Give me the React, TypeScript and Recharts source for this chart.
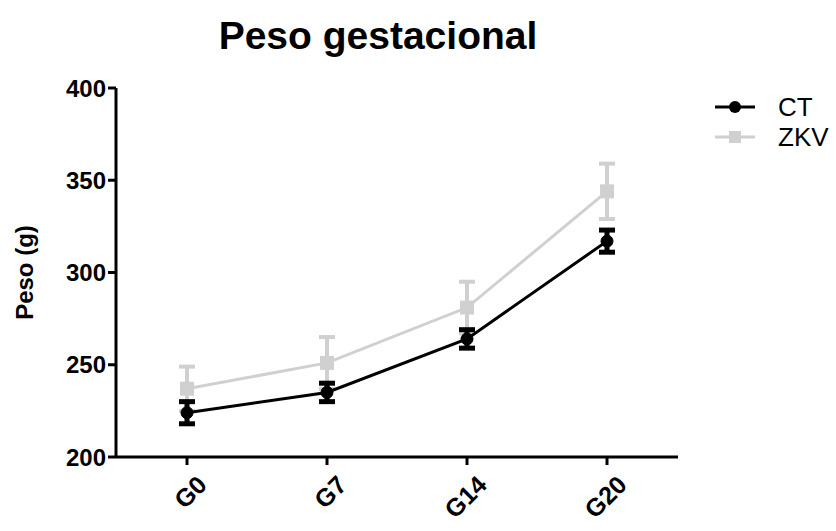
import { LineChart, Line, XAxis, YAxis, ErrorBar, Legend } from 'recharts';

const weeks = ['G0', 'G7', 'G14', 'G20'];
const ctMean = [224, 235, 264, 317];
const ctSem = [6, 5, 5, 6];
const zkvMean = [237, 251, 281, 344];
const zkvSem = [12, 14, 14, 15];
const yTicks = [200, 250, 300, 350, 400];

const data = weeks.map((w, i) => ({
  week: w,
  ct: ctMean[i],
  ctErr: ctSem[i],
  zkv: zkvMean[i],
  zkvErr: zkvSem[i],
}));

const FONT = '"Liberation Sans", Arial, sans-serif';
const GREY = '#d0d0d0';

const XTick = ({ x, y, payload }: any) => (
  <g transform={`translate(${x + 8},${y + 6})`}>
    <text
      textAnchor="end"
      transform="rotate(-45)"
      fontFamily={FONT}
      fontWeight="bold"
      fontSize={25}
      fill="#000"
      dy={19}
    >
      {payload.value}
    </text>
  </g>
);

const LegendBox = () => (
  <svg width={136} height={70}>
    <line x1={15} y1={17} x2={55} y2={17} stroke="#000" strokeWidth={3} />
    <circle cx={35} cy={17} r={6} fill="#000" />
    <text x={78} y={26} fontFamily={FONT} fontSize={26} fill="#000">CT</text>
    <line x1={15} y1={47} x2={55} y2={47} stroke={GREY} strokeWidth={3} />
    <rect x={29} y={41} width={12} height={12} fill={GREY} />
    <text x={78} y={56} fontFamily={FONT} fontSize={26} fill="#000">ZKV</text>
  </svg>
);

export default function App() {
  return (
    <div style={{ position: 'absolute', left: 0, top: 0, width: 836, height: 531, background: '#fff' }}>
      <div
        style={{
          position: 'absolute', left: 178, width: 400, top: 14, textAlign: 'center',
          fontFamily: FONT, fontWeight: 'bold', fontSize: 39,
        }}
      >
        Peso gestacional
      </div>
      <LineChart width={836} height={531} data={data} margin={{ top: 88, right: 22, left: 0, bottom: 0 }}>
        <XAxis
          dataKey="week"
          height={74}
          padding={{ left: 71, right: 71 }}
          axisLine={{ stroke: '#000', strokeWidth: 3 }}
          tickLine={{ stroke: '#000', strokeWidth: 3 }}
          tickSize={8}
          tick={<XTick />}
          interval={0}
        />
        <YAxis
          width={116}
          domain={[200, 400]}
          ticks={yTicks}
          interval={0}
          axisLine={{ stroke: '#000', strokeWidth: 3 }}
          tickLine={{ stroke: '#000', strokeWidth: 3 }}
          tickSize={8}
          tick={{ fill: '#000', fontFamily: FONT, fontWeight: 'bold', fontSize: 24 }}
          label={{
            value: 'Peso (g)', angle: -90, position: 'insideLeft', offset: 24,
            style: { fill: '#000', fontFamily: FONT, fontWeight: 'bold', fontSize: 24, textAnchor: 'middle' },
          }}
        />
        <Legend
          layout="vertical"
          align="right"
          verticalAlign="top"
          content={<LegendBox />}
          wrapperStyle={{ left: 700, top: 90, width: 136 }}
        />
        <Line
          dataKey="zkv"
          stroke={GREY}
          strokeWidth={3}
          isAnimationActive={false}
          dot={(p: any) => <rect key={p.index} x={p.cx - 7} y={p.cy - 7} width={14} height={14} fill={GREY} />}
          activeDot={false}
        >
          <ErrorBar dataKey="zkvErr" direction="y" width={8} stroke={GREY} strokeWidth={4} isAnimationActive={false} />
        </Line>
        <Line
          dataKey="ct"
          stroke="#000"
          strokeWidth={3}
          isAnimationActive={false}
          dot={{ r: 6, fill: '#000', stroke: '#000', strokeWidth: 1 }}
          activeDot={false}
        >
          <ErrorBar dataKey="ctErr" direction="y" width={8} stroke="#000" strokeWidth={5} isAnimationActive={false} />
        </Line>
      </LineChart>
    </div>
  );
}
